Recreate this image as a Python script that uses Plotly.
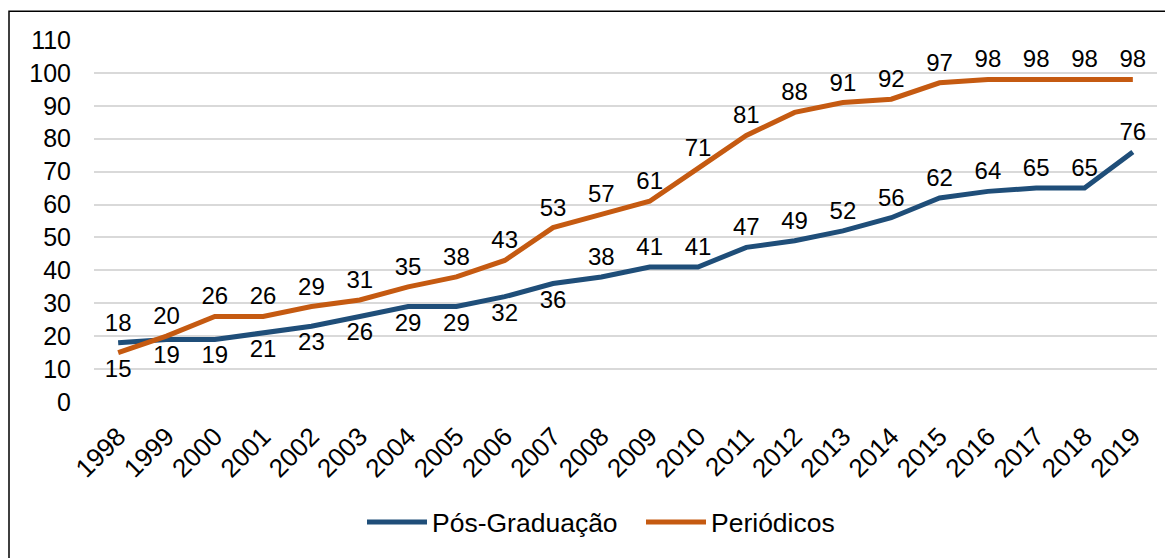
import plotly.graph_objects as go

years = [str(y) for y in range(1998, 2020)]
pos_graduacao = [18, 19, 19, 21, 23, 26, 29, 29, 32, 36, 38, 41, 41, 47, 49, 52, 56, 62, 64, 65, 65, 76]
periodicos = [15, 20, 26, 26, 29, 31, 35, 38, 43, 53, 57, 61, 71, 81, 88, 91, 92, 97, 98, 98, 98, 98]

BLUE = "#1F4E79"
ORANGE = "#C55A11"
FONT = "Liberation Sans, Arial, sans-serif"

# label placement (style), like the excel data labels
pos_textpos = ["top center"] + ["bottom center"] * 9 + ["top center"] * 12
per_textpos = ["bottom center"] + ["top center"] * 21

# page body has an 8px margin, so the figure is drawn 8px right/down
OFF = 8
W, H = 1173 - OFF, 558 - OFF
L, T = 94 - OFF, 40 - OFF
pw, ph = 1063, 364
R, B = W - L - pw, H - T - ph


def px_x(x):
    # screen pixel -> paper coordinate
    return (x - OFF - L) / pw


def px_y(y):
    return (T + ph - (y - OFF)) / ph


def series(name, values, color, textpos):
    # transparent markers only push the data labels a bit away from the line
    return go.Scatter(
        x=years, y=values, name=name,
        mode="lines+markers+text", text=[str(v) for v in values],
        textposition=textpos,
        textfont=dict(size=24, color="black", family=FONT),
        line=dict(color=color, width=5),
        marker=dict(size=8, color="rgba(0,0,0,0)", line=dict(width=0)),
        cliponaxis=False,
    )


fig = go.Figure()
fig.add_trace(series("Pós-Graduação", pos_graduacao, BLUE, pos_textpos))
fig.add_trace(series("Periódicos", periodicos, ORANGE, per_textpos))

fig.update_xaxes(
    type="category",
    range=[-0.5, len(years) - 0.5],
    tickangle=-45,
    showgrid=False,
    zeroline=False,
    showline=False,
    ticklabelstandoff=13,
    tickfont=dict(size=26, color="black", family=FONT),
)
fig.update_yaxes(
    range=[0, 110],
    dtick=10,
    showgrid=True,
    gridcolor="#D9D9D9",
    gridwidth=1.5,
    zeroline=False,
    showline=False,
    ticklabelstandoff=22,
    tickfont=dict(size=25, color="black", family=FONT),
)

# chart border (only top and left edge fall inside the picture)
fig.add_shape(
    type="rect", xref="paper", yref="paper",
    x0=px_x(9), x1=px_x(1200), y0=px_y(11), y1=px_y(600),
    line=dict(color="black", width=1.5), fillcolor="rgba(0,0,0,0)",
    layer="below",
)

fig.update_layout(
    width=W, height=H,
    margin=dict(l=L, r=R, t=T, b=B, pad=0),
    paper_bgcolor="white",
    plot_bgcolor="white",
    font=dict(family=FONT, color="black"),
    showlegend=True,
    legend=dict(
        orientation="h",
        x=px_x(362), xanchor="left",
        y=px_y(525), yanchor="middle",
        font=dict(size=26.5, color="black", family=FONT),
        itemwidth=60,
        entrywidth=204, entrywidthmode="pixels",
        traceorder="normal",
    ),
)

fig.write_html("out.html")
